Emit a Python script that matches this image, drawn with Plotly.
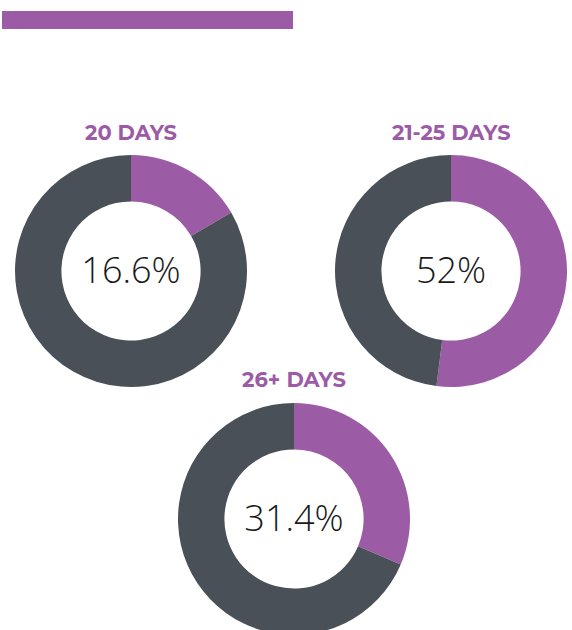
"""Three donut charts: share of cases by duration bucket."""

import plotly.graph_objects as go

PURPLE = "#9b5ba5"
SLATE = "#495057"

# ── Data ──────────────────────────────────────────────────────────────────────
buckets = ["20 DAYS", "21-25 DAYS", "26+ DAYS"]
share_pct = [16.6, 52.0, 31.4]
share_labels = ["16.6%", "52%", "31.4%"]
slice_names = ["Share", "Rest"]

# ── Geometry (pixels) ─────────────────────────────────────────────────────────
W, H = 572, 642          # slightly taller than the window so the last donut is clipped
R = 116
centers = [(131, 271), (451, 271), (294, 519)]

fig = go.Figure()

for name, pct, lab, (cx, cy) in zip(buckets, share_pct, share_labels, centers):
    fig.add_trace(
        go.Pie(
            labels=slice_names,
            values=[pct, 100 - pct],
            hole=0.6,
            sort=False,
            direction="clockwise",
            rotation=0,
            marker=dict(colors=[PURPLE, SLATE], line=dict(width=0)),
            textinfo="none",
            hoverinfo="skip",
            showlegend=False,
            title=dict(
                text=lab, position="middle center",
                font=dict(family="Open Sans", size=36, color="#1a1a1a", weight=300),
            ),
            domain=dict(
                x=[(cx - R) / W, (cx + R) / W],
                y=[1 - (cy + R) / H, 1 - (cy - R) / H],
            ),
        )
    )
    # centred label above each donut
    fig.add_annotation(
        x=cx / W, y=1 - (cy - R - 23) / H, xref="paper", yref="paper",
        xanchor="center", yanchor="middle",
        text=f"<b>{name}</b>", showarrow=False,
        font=dict(family="Montserrat, Open Sans", size=21, color=PURPLE),
    )

# header bar
fig.add_shape(
    type="rect", xref="paper", yref="paper",
    x0=2 / W, x1=293 / W, y0=1 - 29 / H, y1=1 - 11 / H,
    fillcolor=PURPLE, line_width=0,
)

fig.update_layout(
    width=W, height=H,
    margin=dict(l=0, r=0, t=0, b=0),
    paper_bgcolor="white", plot_bgcolor="white",
)

fig.write_html(
    "out.html",
    config={"displayModeBar": False},
    post_script="document.body.style.margin='0';document.body.style.overflow='hidden';",
)
